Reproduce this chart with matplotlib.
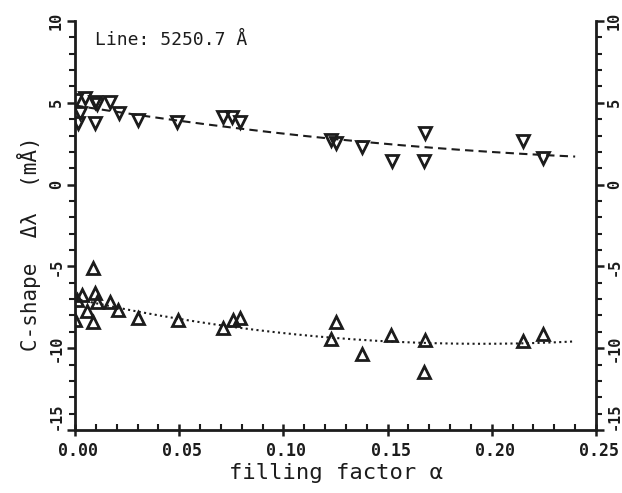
import numpy as np
import matplotlib
matplotlib.use("Agg")
import matplotlib.pyplot as plt
import matplotlib.transforms as mtransforms

# upper set (down triangles)
x_down = [0.0005, 0.0024, 0.0048, 0.0096, 0.0106, 0.0168, 0.0014, 0.0096, 0.021, 0.030,
          0.049, 0.071, 0.0753, 0.079, 0.123, 0.125, 0.1377, 0.152, 0.168, 0.1675,
          0.215, 0.2245]
y_down = [5.17, 4.4, 5.3, 5.05, 4.95, 5.05, 3.77, 3.77, 4.4, 3.95,
          3.85, 4.13, 4.13, 3.83, 2.7, 2.55, 2.3, 1.45, 3.15, 1.45,
          2.65, 1.6]

# lower set (up triangles)
x_up = [0.0086, 0.0034, 0.0096, 0.0106, 0.001, 0.0058, 0.0168, 0.0206, 0.0, 0.0086,
        0.030, 0.0494, 0.071, 0.076, 0.079, 0.125, 0.123, 0.1377, 0.1516, 0.168,
        0.1675, 0.215, 0.2245]
y_up = [-5.1, -6.75, -6.6, -7.2, -7.05, -7.7, -7.2, -7.65, -8.3, -8.4,
        -8.15, -8.3, -8.75, -8.3, -8.15, -8.4, -9.45, -10.35, -9.2, -9.5,
        -11.45, -9.55, -9.15]

x_ticks = [0.00, 0.05, 0.10, 0.15, 0.20, 0.25]
y_ticks = [-15, -10, -5, 0, 5, 10]

ink = "#1c1c1c"
mono = ['DejaVu Sans Mono', 'DejaVu Sans']
plt.rcParams['font.family'] = mono
plt.rcParams['axes.unicode_minus'] = False

fig = plt.figure(figsize=(6.22, 4.93), dpi=100)
ax = fig.add_axes([0.1206, 0.1278, 0.8376, 0.8296])

ax.plot(x_down, y_down, linestyle='none', marker='v', markersize=8,
        markerfacecolor='none', markeredgecolor=ink, markeredgewidth=2)
ax.plot(x_up, y_up, linestyle='none', marker='^', markersize=8,
        markerfacecolor='none', markeredgecolor=ink, markeredgewidth=2)

# quadratic fits to each set
xf = np.linspace(0.0, 0.24, 200)
cd = np.polyfit(x_down, y_down, 2)
cu = np.polyfit(x_up, y_up, 2)
ax.plot(xf, np.polyval(cd, xf), color=ink, linestyle=(0, (4, 2.5)), linewidth=1.5)
ax.plot(xf, np.polyval(cu, xf), color=ink, linestyle=(0, (1, 1.6)), linewidth=1.5)

ax.set_xlim(0, 0.25)
ax.set_ylim(-15, 10)
ax.spines['top'].set_visible(False)
for s in ['left', 'right', 'bottom']:
    ax.spines[s].set_linewidth(2)
    ax.spines[s].set_color(ink)

ax.set_xticks(x_ticks)
ax.set_xticklabels(["%.2f" % v for v in x_ticks], fontsize=12, fontweight='bold')
ax.set_xticks(np.arange(0, 0.2501, 0.01), minor=True)
ax.set_yticks(y_ticks)
ax.set_yticks(np.arange(-15, 10.1, 1), minor=True)

ax.tick_params(axis='x', which='major', direction='inout', length=9, width=1.8,
               colors=ink, pad=4)
ax.tick_params(axis='x', which='minor', direction='in', length=4, width=1.5, colors=ink)
ax.tick_params(axis='y', which='major', direction='out', length=6, width=1.8,
               colors=ink, left=True, right=True, labelleft=True, labelright=True,
               labelsize=11, labelrotation=90, pad=2)
ax.tick_params(axis='y', which='minor', direction='out', length=4, width=1.5,
               colors=ink, left=True, right=True)

shift = mtransforms.ScaledTranslation(3 / 100, 0, fig.dpi_scale_trans)
for lab in ax.get_xticklabels():
    lab.set_transform(lab.get_transform() + shift)
for t in ax.yaxis.get_major_ticks():
    for lab in (t.label1, t.label2):
        lab.set_fontweight('bold')
        lab.set_verticalalignment('center')
# lowest labels sit above their tick, as in the original
low = ax.yaxis.get_major_ticks()[0]
low.label1.set_verticalalignment('bottom')
low.label2.set_verticalalignment('bottom')

ax.set_xlabel("filling factor α", fontsize=16, color=ink, labelpad=2)
ax.set_ylabel("C-shape  Δλ  (mÅ)", fontsize=15, color=ink)
ax.yaxis.set_label_coords(-0.066, 0.455)
ax.text(0.0096, 8.84, "Line: 5250.7 Å", fontsize=13, color=ink,
        ha='left', va='center')

fig.savefig("out.png", dpi=100)
